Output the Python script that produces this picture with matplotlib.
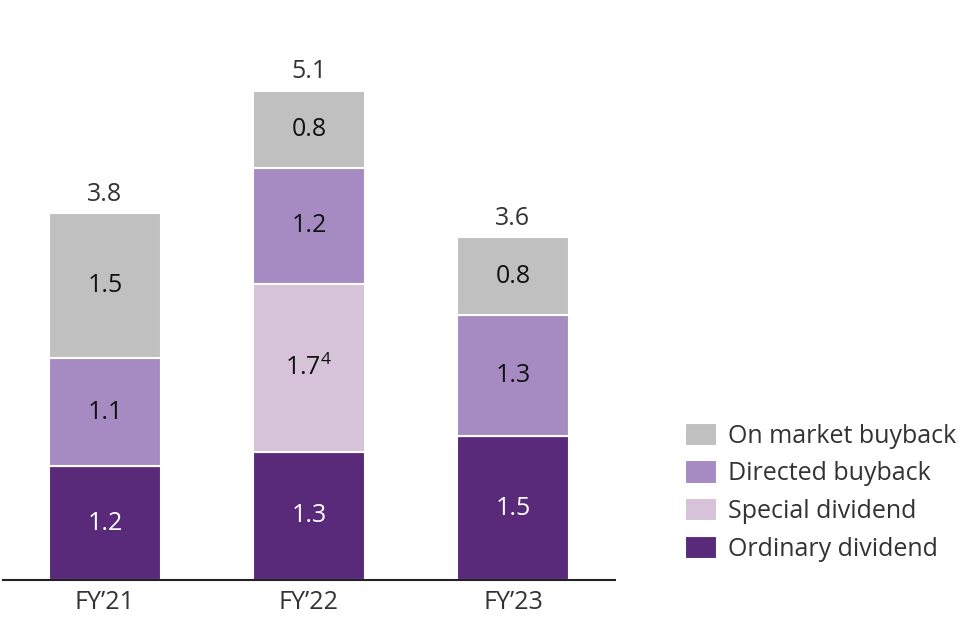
import matplotlib.pyplot as plt
import numpy as np

# ---- data (segment sizes; labels shown at one decimal) ----
years = ["FY\u201921", "FY\u201922", "FY\u201923"]
ordinary = [1.18, 1.33, 1.49]
special = [0.0, 1.74, 0.0]
directed = [1.12, 1.20, 1.26]
on_market = [1.50, 0.80, 0.80]
totals = [3.8, 5.1, 3.6]

series = [
    ("Ordinary dividend", ordinary, "#5A2A7A", "white"),
    ("Special dividend", special, "#D6C2D9", "#111111"),
    ("Directed buyback", directed, "#A68BC3", "#111111"),
    ("On market buyback", on_market, "#C0C0C0", "#111111"),
]

FS = 18
plt.rcParams.update({
    "font.family": ["Open Sans", "DejaVu Sans"],
    "font.size": FS,
    "mathtext.fontset": "custom",
    "mathtext.rm": "Open Sans",
})

fig = plt.figure(figsize=(9.66, 6.22), dpi=100)
ax = fig.add_axes([3 / 966, 1 - 580 / 622, 612 / 966, 579 / 622])

x = np.arange(len(years))
bottom = np.zeros(len(years))
handles = {}
for name, vals, col, tcol in series:
    vals = np.array(vals)
    bars = ax.bar(x, vals, width=0.55, bottom=bottom, color=col,
                  edgecolor="white", linewidth=1.5, label=name, zorder=2)
    handles[name] = bars
    for xi, b, v in zip(x, bottom, vals):
        if v <= 0:
            continue
        lbl = f"{v:.1f}"
        if name == "Special dividend":
            lbl = lbl + "$^{4}$"
        ax.text(xi, b + v / 2, lbl, ha="center", va="center",
                color=tcol, fontsize=FS)
    bottom = bottom + vals

# totals above each stack
for xi, top, t in zip(x, bottom, totals):
    ax.text(xi, top + 0.07, f"{t:.1f}", ha="center", va="bottom",
            color="#333333", fontsize=FS)

ax.set_xlim(-0.5, 2.5)
ax.set_ylim(0, 6)
ax.set_xticks(x)
ax.set_xticklabels(years, color="#333333", fontsize=FS)
ax.tick_params(axis="x", length=0, pad=7)
ax.set_yticks([])
for s in ["top", "right", "left"]:
    ax.spines[s].set_visible(False)
ax.spines["bottom"].set_linewidth(1.5)
ax.spines["bottom"].set_color("#222222")

order = ["On market buyback", "Directed buyback", "Special dividend", "Ordinary dividend"]
fig.legend([handles[n] for n in order], order, loc="upper left",
           bbox_to_anchor=(662 / 966, 1 - 400 / 622), frameon=False,
           fontsize=FS, handlelength=1.28, handleheight=1.05,
           handletextpad=0.48, labelspacing=0.47, labelcolor="#333333")

fig.savefig("out.png", dpi=100)
